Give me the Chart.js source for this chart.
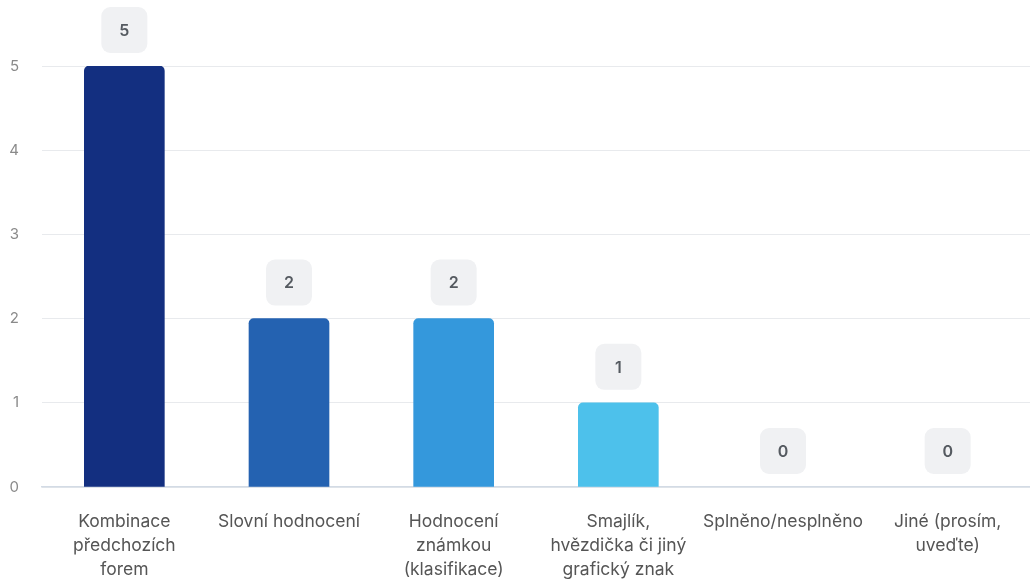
<!DOCTYPE html>
<html>
<head>
<meta charset="utf-8">
<script src="https://cdn.jsdelivr.net/npm/chart.js@4"></script>
<style>
  html, body { margin: 0; padding: 0; background: #fff; }
  #wrap { width: 1030px; height: 582px; }
</style>
</head>
<body>
<div id="wrap"><canvas id="graf" width="1030" height="582"></canvas></div>
<script>
const kategorie = [
  ['Kombinace', 'předchozích', 'forem'],
  'Slovní hodnocení',
  ['Hodnocení', 'známkou', '(klasifikace)'],
  ['Smajlík,', 'hvězdička či jiný', 'grafický znak'],
  'Splněno/nesplněno',
  ['Jiné (prosím,', 'uveďte)']
];
const pocty = [5, 2, 2, 1, 0, 0];
const barvy = ['#132f80', '#2462b1', '#3498dc', '#4dc1eb', '#4dc1eb', '#4dc1eb'];
const osaY = [0, 1, 2, 3, 4, 5];

// stitky s hodnotou nad sloupci
const stitky = {
  id: 'stitky',
  afterDatasetsDraw(chart) {
    const ctx = chart.ctx;
    const meta = chart.getDatasetMeta(0);
    ctx.save();
    meta.data.forEach((bar, i) => {
      const w = 46, h = 46;
      const x = bar.x - w / 2;
      const y = bar.y - 13 - h;
      ctx.fillStyle = '#f0f1f3';
      ctx.beginPath();
      ctx.roundRect(x, y, w, h, 9);
      ctx.fill();
      ctx.fillStyle = '#555a60';
      ctx.font = '600 16px Inter';
      ctx.textAlign = 'center';
      ctx.textBaseline = 'middle';
      ctx.fillText(String(pocty[i]), bar.x, y + h / 2 + 1);
    });
    ctx.restore();
  }
};

Chart.defaults.font.family = 'Inter';

new Chart(document.getElementById('graf'), {
  type: 'bar',
  data: {
    labels: kategorie,
    datasets: [{
      data: pocty,
      backgroundColor: c => pocty[c.dataIndex] === 0 ? 'rgba(0,0,0,0)' : barvy[c.dataIndex],
      borderRadius: 5,
      borderSkipped: 'bottom',
      barThickness: 80
    }]
  },
  options: {
    responsive: false,
    animation: false,
    layout: { padding: { top: 66, right: 0, bottom: 0, left: 0 } },
    plugins: { legend: { display: false }, tooltip: { enabled: false } },
    scales: {
      x: {
        afterFit(scale) { scale.height = 95; },
        grid: { display: false, drawTicks: false },
        border: { display: true, color: '#d3dbe5', width: 1.5 },
        ticks: { color: '#555', font: { size: 17.5, lineHeight: '24px' }, padding: 23, maxRotation: 0, autoSkip: false }
      },
      y: {
        min: 0,
        max: 5,
        afterFit(scale) { scale.width = 42; },
        afterBuildTicks(scale) { scale.ticks = osaY.map(v => ({ value: v })); },
        grid: { color: '#e8eaed', drawTicks: false },
        border: { display: false },
        ticks: { color: '#8a8a8a', font: { size: 15 }, padding: 23 }
      }
    }
  },
  plugins: [stitky]
});
</script>
</body>
</html>
